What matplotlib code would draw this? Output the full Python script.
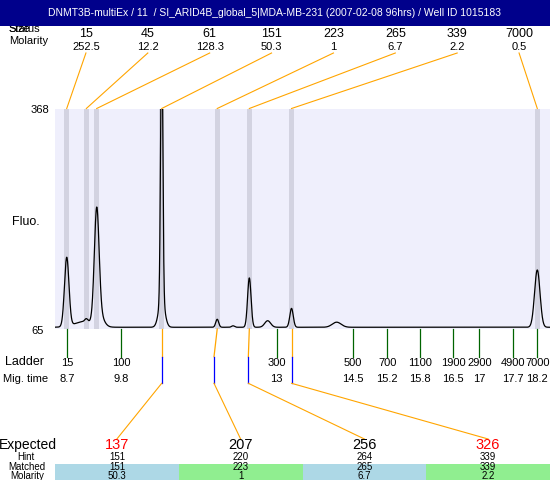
import matplotlib
matplotlib.use("Agg")
import matplotlib.pyplot as plt
import numpy as np

plt.rcParams['font.family'] = ['Liberation Sans', 'DejaVu Sans']

title = "DNMT3B-multiEx / 11  / SI_ARID4B_global_5|MDA-MB-231 (2007-02-08 96hrs) / Well ID 1015183"

# sample peaks (size bp, molarity, migration time, fluorescence)
peak_size = ['15', '45', '61', '151', '223', '265', '339', '7000']
peak_molarity = ['252.5', '12.2', '128.3', '50.3', '1', '6.7', '2.2', '0.5']
peak_time = [8.688, 9.084, 9.294, 10.608, 11.73, 12.379, 13.232, 18.2]

# trace components (time, height above baseline, width)
baseline = 67
comp_time = [8.688, 9.05, 9.084, 9.294, 9.36, 10.608, 10.608, 11.73, 12.05, 12.379, 12.75, 13.232, 14.145, 18.2]
comp_amp = [95, 8, 4, 152, 14, 380, 40, 11, 2, 68, 9, 26, 7, 79]
comp_sigma = [0.045, 0.2, 0.03, 0.048, 0.08, 0.022, 0.06, 0.03, 0.03, 0.035, 0.06, 0.035, 0.09, 0.055]

# ladder
ladder_size = ['15', '100', '300', '500', '700', '1100', '1900', '2900', '4900', '7000']
ladder_time = [8.70, 9.79, 12.93, 14.48, 15.17, 15.82, 16.50, 17.03, 17.70, 18.20]
ladder_mig = ['8.7', '9.8', '13', '14.5', '15.2', '15.8', '16.5', '17', '17.7', '18.2']

# expected fragments and their matches
expected = ['137', '207', '256', '326']
expected_color = ['red', 'black', 'black', 'red']
hint = ['151', '220', '264', '339']
matched = ['151', '223', '265', '339']
matched_molarity = ['50.3', '1', '6.7', '2.2']
matched_peak_time = [10.608, 11.73, 12.379, 13.232]
matched_ladder_time = [10.608, 11.665, 12.359, 13.232]
box_color = ['#ADD8E6', '#90EE90', '#ADD8E6', '#90EE90']

W, H = 550, 480
fig = plt.figure(figsize=(5.5, 4.8), dpi=100)

# electropherogram panel
ax = fig.add_axes([55 / W, 1 - 328.7 / H, 495 / W, (328.7 - 109) / H])
ax.set_xlim(8.451, 18.457)
ax.set_ylim(65, 368)
ax.set_facecolor('#EFEFFC')
for s in ax.spines.values():
    s.set_visible(False)
ax.set_xticks([])
ax.set_yticks([])

for t in peak_time:
    ax.axvspan(t - 0.05, t + 0.05, color='#D3D3E1', lw=0)

tt = np.linspace(8.451, 18.457, 4000)
trace = np.full_like(tt, baseline, dtype=float)
for c, a, s in zip(comp_time, comp_amp, comp_sigma):
    trace += a * np.exp(-0.5 * ((tt - c) / s) ** 2)
ax.plot(tt, trace, color='black', lw=0.9)

# overlay in pixel coordinates for labels and leader lines
ov = fig.add_axes([0, 0, 1, 1], zorder=5)
ov.set_xlim(0, W)
ov.set_ylim(H, 0)
ov.patch.set_alpha(0)
ov.axis('off')


def t2px(t):
    t = np.atleast_1d(t)
    disp = ax.transData.transform(np.column_stack([t, np.full(len(t), 65.0)]))
    return ov.transData.inverted().transform(disp)[:, 0]


# header
ov.text(8, 28.5, 'Status', fontsize=8, va='center', ha='left')
ov.text(8, 28.5, 'Size', fontsize=8, va='center', ha='left')
ov.add_patch(plt.Rectangle((0, 0), W, 26, color='#00008B', lw=0, zorder=3))
ov.text(275, 13, title, color='white', fontsize=7.5, ha='center', va='center', zorder=4)
ov.text(9, 40.7, 'Molarity', fontsize=8, va='center', ha='left')

col_w = 495 / len(peak_size)
peak_px = t2px(peak_time)
for i in range(len(peak_size)):
    cx = 55 + (i + 0.5) * col_w
    ov.text(cx, 34.3, peak_size[i], fontsize=9, ha='center', va='center')
    ov.text(cx, 46.7, peak_molarity[i], fontsize=8, ha='center', va='center')
    ov.plot([cx, peak_px[i]], [53, 108.5], color='orange', lw=0.8)

# y axis labels
ov.text(31, 110, '368', fontsize=8, ha='left', va='center')
ov.text(31, 331.5, '65', fontsize=8, ha='left', va='center')
ov.text(12, 222, 'Fluo.', fontsize=9, ha='left', va='center')

# ladder
ov.text(25, 362, 'Ladder', fontsize=9, ha='center', va='center')
ov.text(26, 379, 'Mig. time', fontsize=8, ha='center', va='center')
ladder_px = t2px(ladder_time)
for i in range(len(ladder_size)):
    ov.plot([ladder_px[i], ladder_px[i]], [329, 356.7], color='#006400', lw=0.9)
    ov.text(ladder_px[i], 362.5, ladder_size[i], fontsize=8, ha='center', va='center')
    ov.text(ladder_px[i], 378.5, ladder_mig[i], fontsize=8, ha='center', va='center')

# matched peak connectors
mp = t2px(matched_peak_time)
ml = t2px(matched_ladder_time)
box_w = 495 / len(expected)
for i in range(len(expected)):
    cx = 55 + (i + 0.5) * box_w
    ov.plot([mp[i], ml[i]], [329, 356.7], color='orange', lw=0.9)
    ov.plot([ml[i], ml[i]], [356.7, 383.3], color='blue', lw=0.9)
    ov.plot([ml[i], cx], [383.3, 439], color='orange', lw=0.8)
    ov.add_patch(plt.Rectangle((55 + i * box_w, 463.5), box_w, 16.5, color=box_color[i], lw=0))
    ov.text(cx, 445, expected[i], color=expected_color[i], fontsize=10.5, ha='center', va='center')
    ov.text(cx, 457, hint[i], fontsize=7, ha='center', va='center')
    ov.text(cx, 467.5, matched[i], fontsize=7, ha='center', va='center')
    ov.text(cx, 476, matched_molarity[i], fontsize=7, ha='center', va='center')

ov.text(28, 445, 'Expected', fontsize=10, ha='center', va='center')
ov.text(26.3, 457, 'Hint', fontsize=7, ha='center', va='center')
ov.text(27, 467.5, 'Matched', fontsize=7, ha='center', va='center')
ov.text(27.4, 476, 'Molarity', fontsize=7, ha='center', va='center')

fig.savefig('out.png', dpi=100)
